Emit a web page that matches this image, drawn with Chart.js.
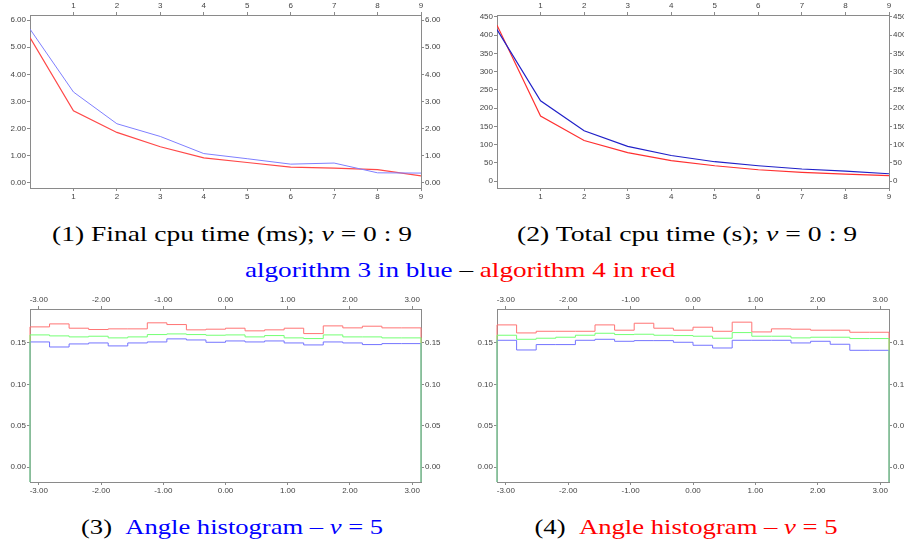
<!DOCTYPE html>
<html>
<head>
<meta charset="utf-8">
<script src="https://cdn.jsdelivr.net/npm/chart.js@4.4.1/dist/chart.umd.min.js"></script>
<style>
  body { margin: 0; background: #fff; width: 904px; height: 544px; position: relative; overflow: hidden; }
  canvas { position: absolute; }
  .cap { position: absolute; font-family: "Liberation Serif", serif; font-size: 22px; line-height: 22px; white-space: nowrap; text-align: center; }
  .cap span.in { display: inline-block; transform-origin: center; }
  .m { font-style: italic; }
  .blue { color: #0000ff; }
  .red { color: #ff0000; }
</style>
</head>
<body>
<canvas id="c1" width="452" height="205" style="left:0;top:0"></canvas>
<canvas id="c2" width="437" height="205" style="left:467px;top:0"></canvas>
<canvas id="c3" width="452" height="205" style="left:0;top:295px"></canvas>
<canvas id="c4" width="437" height="205" style="left:467px;top:295px"></canvas>

<div class="cap" style="left:32px;top:223px;width:400px"><span class="in" data-w="360">(1) Final cpu time (ms); <span class="m">v</span> = 0 : 9</span></div>
<div class="cap" style="left:487px;top:223px;width:400px"><span class="in" data-w="340">(2) Total cpu time (s); <span class="m">v</span> = 0 : 9</span></div>
<div class="cap" style="left:210px;top:259px;width:500px"><span class="in" data-w="430"><span class="blue">algorithm 3 in blue</span> – <span class="red">algorithm 4 in red</span></span></div>
<div class="cap" style="left:32px;top:516px;width:400px"><span class="in" data-w="302">(3) &nbsp;<span class="blue">Angle histogram – <span class="m">v</span> = 5</span></span></div>
<div class="cap" style="left:486px;top:516px;width:400px"><span class="in" data-w="303">(4) &nbsp;<span class="red">Angle histogram – <span class="m">v</span> = 5</span></span></div>

<script>
// ---- data ----
const versions = [0, 1, 2, 3, 4, 5, 6, 7, 8, 9];
const finalCpuAlg3 = [5.67, 3.35, 2.18, 1.71, 1.08, 0.89, 0.69, 0.73, 0.37, 0.36];
const finalCpuAlg4 = [5.36, 2.66, 1.86, 1.33, 0.92, 0.75, 0.58, 0.54, 0.49, 0.26];
const totalCpuAlg3 = [415, 220, 138, 95, 70, 53, 42, 33, 27, 20];
const totalCpuAlg4 = [427, 178, 111, 78, 56, 42, 31, 24, 19, 15];

// angle histogram, 20 bins over [-pi, pi]
const hist3Red   = [0.1621, 0.1694, 0.1730, 0.1678, 0.1662, 0.1670, 0.1670, 0.1743, 0.1722, 0.1658, 0.1666, 0.1678, 0.1646, 0.1658, 0.1678, 0.1613, 0.1706, 0.1682, 0.1702, 0.1682];
const hist3Green = [0.1569, 0.1597, 0.1585, 0.1573, 0.1581, 0.1561, 0.1573, 0.1601, 0.1609, 0.1601, 0.1593, 0.1597, 0.1573, 0.1589, 0.1561, 0.1553, 0.1597, 0.1573, 0.1573, 0.1561];
const hist3Blue  = [0.1500, 0.1512, 0.1451, 0.1488, 0.1500, 0.1464, 0.1500, 0.1512, 0.1549, 0.1536, 0.1508, 0.1524, 0.1512, 0.1524, 0.1500, 0.1476, 0.1512, 0.1500, 0.1480, 0.1492];
const hist4Red   = [0.1690, 0.1718, 0.1621, 0.1641, 0.1641, 0.1641, 0.1718, 0.1654, 0.1738, 0.1678, 0.1654, 0.1690, 0.1641, 0.1751, 0.1633, 0.1670, 0.1666, 0.1654, 0.1654, 0.1629];
const hist4Green = [0.1581, 0.1593, 0.1544, 0.1557, 0.1569, 0.1593, 0.1617, 0.1601, 0.1605, 0.1593, 0.1589, 0.1581, 0.1557, 0.1625, 0.1581, 0.1581, 0.1561, 0.1569, 0.1569, 0.1553];
const hist4Blue  = [0.1520, 0.1532, 0.1415, 0.1480, 0.1480, 0.1532, 0.1544, 0.1520, 0.1528, 0.1528, 0.1508, 0.1472, 0.1439, 0.1532, 0.1532, 0.1532, 0.1500, 0.1520, 0.1484, 0.1411];

const versionTicks = [1, 2, 3, 4, 5, 6, 7, 8, 9];
const finalCpuTicks = [0, 1, 2, 3, 4, 5, 6];
const totalCpuTicks = [0, 50, 100, 150, 200, 250, 300, 350, 400, 450];
const angleTicks = [-3, -2, -1, 0, 1, 2, 3];
const histTicks = [0, 0.05, 0.10, 0.15];

// ---- helpers ----
const AXIS = "#8a8a8a";
const tickFont = { family: "Liberation Sans, Arial, sans-serif", size: 8 };

function axis(position, min, max, ticks, fmt, size) {
  const horiz = position === "top" || position === "bottom";
  return {
    type: "linear",
    position: position,
    min: min,
    max: max,
    grid: { drawOnChartArea: false, drawTicks: true, tickLength: 3, color: AXIS },
    border: { display: true, color: AXIS, width: 1 },
    ticks: { font: tickFont, color: "#444", padding: 1, maxRotation: 0, autoSkip: false, callback: fmt },
    afterBuildTicks: (s) => { s.ticks = ticks.map(v => ({ value: v })); },
    afterFit: (s) => { if (horiz) s.height = size; else s.width = size; }
  };
}

function line(xs, ys, color, width) {
  return {
    data: xs.map((x, i) => ({ x: x, y: ys[i] })),
    borderColor: color,
    borderWidth: width,
    pointRadius: 0,
    tension: 0,
    fill: false
  };
}

// step outline of a histogram, dropping to the axis floor at both ends
function steps(vals, color, floor) {
  const n = vals.length;
  const edge = (k) => -Math.PI + (2 * Math.PI * k) / n;
  const pts = [{ x: edge(0), y: floor }];
  vals.forEach((v, k) => pts.push({ x: edge(k), y: v }));
  pts.push({ x: edge(n), y: vals[n - 1] });
  pts.push({ x: edge(n), y: floor });
  return {
    data: pts, borderColor: color, borderWidth: 1, pointRadius: 0, stepped: "after", fill: false,
    clip: { left: 1, right: 1, top: 0, bottom: 0 }
  };
}

function makeChart(id, datasets, scales) {
  return new Chart(document.getElementById(id), {
    type: "line",
    data: { datasets: datasets },
    options: {
      responsive: false,
      animation: false,
      devicePixelRatio: 1,
      layout: { padding: 0 },
      plugins: { legend: { display: false }, tooltip: { enabled: false } },
      scales: scales
    }
  });
}

const intFmt = (v) => String(v);
const f2 = (v) => v.toFixed(2);

// (1) final cpu time
makeChart("c1", [
  line(versions, finalCpuAlg3, "#7f7fff", 1),
  line(versions, finalCpuAlg4, "#ff4848", 1.2)
], {
  x: axis("bottom", 0, 9, versionTicks, intFmt, 17),
  x2: axis("top", 0, 9, versionTicks, intFmt, 15),
  y: axis("left", -0.19, 6.19, finalCpuTicks, f2, 30),
  y2: axis("right", -0.19, 6.19, finalCpuTicks, f2, 31)
});

// (2) total cpu time
makeChart("c2", [
  line(versions, totalCpuAlg3, "#2020c8", 1.2),
  line(versions, totalCpuAlg4, "#ff3030", 1.2)
], {
  x: axis("bottom", 0, 9, versionTicks, intFmt, 17),
  x2: axis("top", 0, 9, versionTicks, intFmt, 15),
  y: axis("left", -19, 455, totalCpuTicks, intFmt, 30),
  y2: axis("right", -19, 455, totalCpuTicks, intFmt, 15)
});

// (3) and (4) angle histograms
const hMin = -0.018, hMax = 0.191;
[["c3", hist3Red, hist3Green, hist3Blue, 31], ["c4", hist4Red, hist4Green, hist4Blue, 15]].forEach(([id, r, g, b, rw]) => {
  makeChart(id, [
    steps(g, "#74ff74", hMin - 0.01),
    steps(b, "#7474ff", hMin - 0.01),
    steps(r, "#ff7474", hMin - 0.01)
  ], {
    x: axis("bottom", -Math.PI, Math.PI, angleTicks, f2, 18),
    x2: axis("top", -Math.PI, Math.PI, angleTicks, f2, 14),
    y: axis("left", hMin, hMax, histTicks, f2, 30),
    y2: axis("right", hMin, hMax, histTicks, f2, rw)
  });
});

// squeeze captions to the widths seen in the figure
document.querySelectorAll(".cap .in").forEach(el => {
  const target = +el.dataset.w;
  el.style.transform = "scaleX(" + (target / el.offsetWidth).toFixed(3) + ")";
});
</script>
</body>
</html>
